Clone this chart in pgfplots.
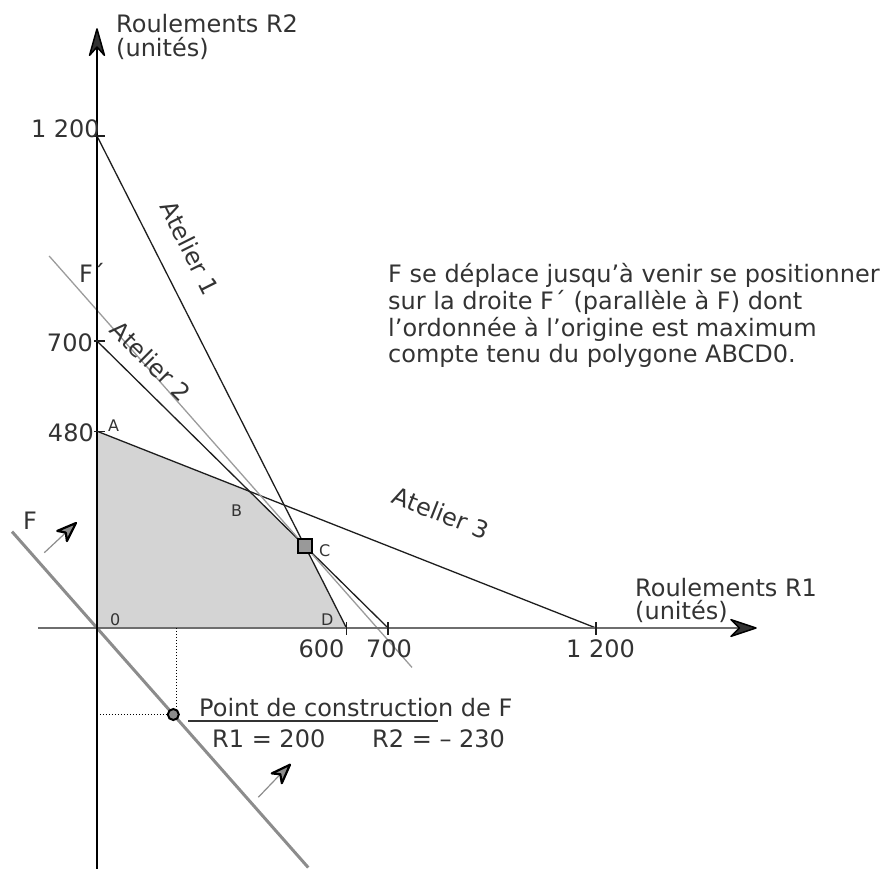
\documentclass[border=0pt]{standalone}
\usepackage{pgfplots}
\pgfplotsset{compat=1.18}
\usepackage{fontspec}
\setmainfont{DejaVu Sans}
\usetikzlibrary{arrows.meta}
\definecolor{txt}{HTML}{333333}
\definecolor{polyfill}{HTML}{D4D4D4}
\definecolor{fgray}{HTML}{8C8C8C}
\definecolor{fpgray}{HTML}{9C9C9C}
\definecolor{axgray}{HTML}{6E6E6E}
\definecolor{lin}{HTML}{1E1E1E}
\definecolor{cfill}{HTML}{999999}
\begin{document}
\begin{tikzpicture}
\begin{axis}[
  x=0.4158bp, y=0.41bp,
  xmin=-233.29, xmax=1897.55, ymin=-587.8, ymax=1531.7,
  hide axis, clip bounding box=upper bound,
]
% feasible polygon 0ABCD
\addplot[fill=polyfill, draw=none, mark=none] coordinates {(0,0) (0,480) (366.67,333.33) (500,200) (600,0)} \closedcycle;
% constraint lines
\addplot[lin, line width=1.3bp, mark=none] coordinates {(0,1200) (600,0)};
\addplot[lin, line width=1.3bp, mark=none] coordinates {(0,700) (700,0)};
\addplot[lin, line width=1.3bp, mark=none] coordinates {(0,480) (1200,0)};
% F' and F
\addplot[fpgray, line width=1.3bp, mark=none] coordinates {(-115,907.25) (757.6,-96.2)};
\addplot[fgray, line width=3bp, mark=none] coordinates {(-204.4,235.1) (508,-584.2)};
% axes
\addplot[axgray, line width=2bp, mark=none, -{Stealth[length=30bp,width=20bp,inset=10bp,color=black,fill=txt,line width=1.5bp,round]}] coordinates {(-141.9,0) (1586.6,0)};
\addplot[black, line width=1.3bp, mark=none, -{Stealth[length=32bp,width=18bp,inset=10bp,color=black,fill=txt,line width=1.5bp,round]}] coordinates {(0,-587.8) (0,1463)};
% ticks
\addplot[lin, line width=1.3bp, mark=none] coordinates {(600,14.6) (600,-17)};
\addplot[lin, line width=1.3bp, mark=none] coordinates {(700,14.6) (700,-17)};
\addplot[lin, line width=1.3bp, mark=none] coordinates {(1200,14.6) (1200,-17)};
\addplot[lin, line width=1.3bp, mark=none] coordinates {(-7.2,1200) (19.2,1200)};
\addplot[lin, line width=1.3bp, mark=none] coordinates {(-7.2,700) (19.2,700)};
\addplot[lin, line width=1.3bp, mark=none] coordinates {(-7.2,480) (19.2,480)};
% construction point dotted lines
\addplot[black, dotted, line width=1bp, mark=none] coordinates {(190,0) (190,-211)};
\addplot[black, dotted, line width=1bp, mark=none] coordinates {(0,-211) (183.5,-211)};
% direction arrows: tails and heads
\addplot[fgray, line width=1.2bp, mark=none] coordinates {(-126.7,183.7) (-75.0,232.7)};
\addplot[fill=fgray, draw=black, line width=2.2bp, line join=round, mark=none] coordinates {(-50.5,256.1) (-72.4,212.0) (-75.0,232.7) (-95.5,236.8)} -- cycle;
\addplot[fgray, line width=1.2bp, mark=none] coordinates {(387.9,-412.9) (440.9,-356.8)};
\addplot[fill=fgray, draw=black, line width=2.2bp, line join=round, mark=none] coordinates {(464.2,-333.4) (444.5,-378.5) (440.9,-356.8) (420.4,-354.6)} -- cycle;
% points
\addplot[only marks, mark=square*, mark size=7bp, mark options={fill=cfill, draw=black, line width=1.8bp}] coordinates {(500,200)};
\addplot[only marks, mark=*, mark size=5.5bp, mark options={fill=fgray, draw=black, line width=2bp}] coordinates {(183.5,-211)};
\coordinate (O) at (axis cs:0,0);
\end{axis}
\begin{scope}[x=1bp, y=-1bp, shift={(O)}, shift={(-97bp,628bp)},
  every node/.style={text=txt, inner sep=0pt, font=\fontsize{24bp}{26bp}\selectfont}]
\node[anchor=base west] at (116,33) {Roulements R2};
\node[anchor=base west] at (116,57) {(unités)};
\node[anchor=base west] at (635,597) {Roulements R1};
\node[anchor=base west] at (635,620) {(unités)};
\node[anchor=base east] at (100,138) {1 200};
\node[anchor=base east] at (93,352) {700};
\node[anchor=base east] at (94,442) {480};
\node[anchor=base] at (321.5,658) {600};
\node[anchor=base] at (389,658) {700};
\node[anchor=base] at (600.5,658) {1 200};
\node[anchor=base west] at (388,283) {F se déplace jusqu’à venir se positionner};
\node[anchor=base west] at (388,310) {sur la droite F´ (parallèle à F) dont};
\node[anchor=base west] at (388,337) {l’ordonnée à l’origine est maximum};
\node[anchor=base west] at (388,363) {compte tenu du polygone ABCD0.};
\node[anchor=base west, font=\fontsize{16bp}{18bp}\selectfont] at (108,432) {A};
\node[anchor=base west, font=\fontsize{16bp}{18bp}\selectfont] at (231,517) {B};
\node[anchor=base west, font=\fontsize{16bp}{18bp}\selectfont] at (319,557) {C};
\node[anchor=base west, font=\fontsize{16bp}{18bp}\selectfont] at (321,626) {D};
\node[anchor=base west, font=\fontsize{16bp}{18bp}\selectfont] at (110,626) {0};
\node[anchor=base west] at (23,530) {F};
\node[anchor=base west] at (79,283) {F´};
\node[rotate=-63.3] at (190,248) {Atelier 1};
\node[rotate=-44.8] at (151,361) {Atelier 2};
\node[rotate=-21.5] at (441,513) {Atelier 3};
\node[anchor=base west] at (199,717) {Point de construction de F};
\draw[txt, line width=1.3bp] (188,721) -- (438,721);
\node[anchor=base west] at (212,748) {R1 = 200};
\node[anchor=base west] at (372,748) {R2 = – 230};
\pgfresetboundingbox
\path[use as bounding box] (0,0) rectangle (886,869);
\end{scope}
\end{tikzpicture}
\end{document}
